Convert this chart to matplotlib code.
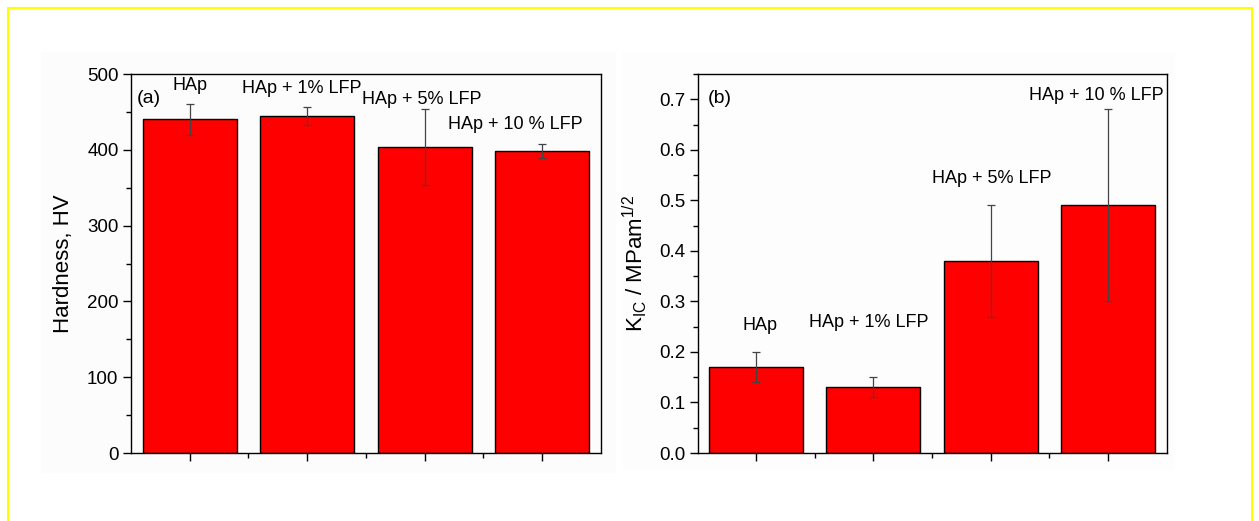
import matplotlib
matplotlib.use('Agg')
import matplotlib.pyplot as plt
from matplotlib.patches import Rectangle
from matplotlib.ticker import MultipleLocator, FixedLocator

plt.rcParams['font.family'] = ['Liberation Sans', 'DejaVu Sans']
plt.rcParams['mathtext.fontset'] = 'custom'
plt.rcParams['mathtext.rm'] = 'Liberation Sans'
plt.rcParams['mathtext.it'] = 'Liberation Sans'

# Samples
samples = ['HAp', 'HAp + 1% LFP', 'HAp + 5% LFP', 'HAp + 10 % LFP']
positions = [1, 2, 3, 4]

# Vickers hardness (HV) with error
hardness = [440, 445, 404, 398]
hardness_err = [20, 12, 50, 9]

# Fracture toughness K_IC (MPa m^1/2) with error
kic = [0.17, 0.13, 0.38, 0.49]
kic_err = [0.03, 0.02, 0.11, 0.19]

# where the sample names sit above the bars (data coords)
label_pos_a = [(1.0, 485), (1.95, 481), (2.98, 466), (3.77, 433)]
label_pos_b = [(1.03, 0.253), (1.96, 0.259), (3.01, 0.544), (3.90, 0.708)]

fig = plt.figure(figsize=(12.59, 5.21), dpi=100)
W, H = 1259, 521

# faint grey backing panels and the yellow frame
fig.patches.append(Rectangle((41 / W, 1 - 473 / H), 575 / W, 421 / H,
                             transform=fig.transFigure, facecolor='#fcfcfc',
                             edgecolor='none', zorder=-2))
fig.patches.append(Rectangle((622 / W, 1 - 470 / H), 553 / W, 418 / H,
                             transform=fig.transFigure, facecolor='#fdfdfd',
                             edgecolor='none', zorder=-2))
fig.patches.append(Rectangle((8 / W, -0.05), 1244 / W, 1.05 - 8 / H,
                             transform=fig.transFigure, facecolor='none',
                             edgecolor='#ffff00', linewidth=1.5, zorder=-1))

ax1 = fig.add_axes([131 / W, 68 / H, 469.7 / W, 379 / H])
ax2 = fig.add_axes([697.5 / W, 68 / H, 469 / W, 379 / H])
for ax in (ax1, ax2):
    ax.set_facecolor('none')
    ax.set_zorder(3)


def style_axes(ax):
    ax.set_xlim(0.5, 4.5)
    ax.xaxis.set_major_locator(FixedLocator(positions))
    ax.xaxis.set_minor_locator(FixedLocator([1.5, 2.5, 3.5]))
    ax.set_xticklabels([])
    ax.tick_params(which='major', direction='out', length=6, width=1.0,
                   labelsize=13.5, pad=3, top=False, right=False)
    ax.tick_params(which='minor', direction='out', length=3.5, width=1.0,
                   top=False, right=False)
    for s in ax.spines.values():
        s.set_linewidth(1.0)


# (a) hardness
ax1.bar(positions, hardness, width=0.8, color='#ff0000', edgecolor='black',
        linewidth=1.0, zorder=2)
ax1.errorbar(positions, hardness, yerr=hardness_err, fmt='none',
             ecolor='#444444', elinewidth=0.9, capsize=3, capthick=0.9, zorder=3)
style_axes(ax1)
ax1.set_ylim(0, 500)
ax1.yaxis.set_major_locator(MultipleLocator(100))
ax1.yaxis.set_minor_locator(MultipleLocator(50))
ax1.set_ylabel('Hardness, HV', fontsize=16, labelpad=9)
ax1.text(0.545, 468, '(a)', fontsize=14, va='center', ha='left')
for name, (x, y) in zip(samples, label_pos_a):
    ax1.text(x, y, name, fontsize=13, ha='center', va='center')

# (b) fracture toughness
ax2.bar(positions, kic, width=0.8, color='#ff0000', edgecolor='black',
        linewidth=1.0, zorder=2)
ax2.errorbar(positions, kic, yerr=kic_err, fmt='none',
             ecolor='#444444', elinewidth=0.9, capsize=3, capthick=0.9, zorder=3)
style_axes(ax2)
ax2.set_ylim(0, 0.75)
ax2.yaxis.set_major_locator(MultipleLocator(0.1))
ax2.yaxis.set_minor_locator(MultipleLocator(0.05))
ax2.yaxis.set_major_formatter(matplotlib.ticker.FormatStrFormatter('%.1f'))
ax2.set_ylabel(r'K$_{\mathregular{IC}}$ / MPam$^{\mathregular{1/2}}$',
               fontsize=16, labelpad=7)
ax2.text(0.585, 0.7025, '(b)', fontsize=14, va='center', ha='left')
for name, (x, y) in zip(samples, label_pos_b):
    ax2.text(x, y, name, fontsize=13, ha='center', va='center')

fig.savefig('out.png', dpi=100, facecolor='white')
